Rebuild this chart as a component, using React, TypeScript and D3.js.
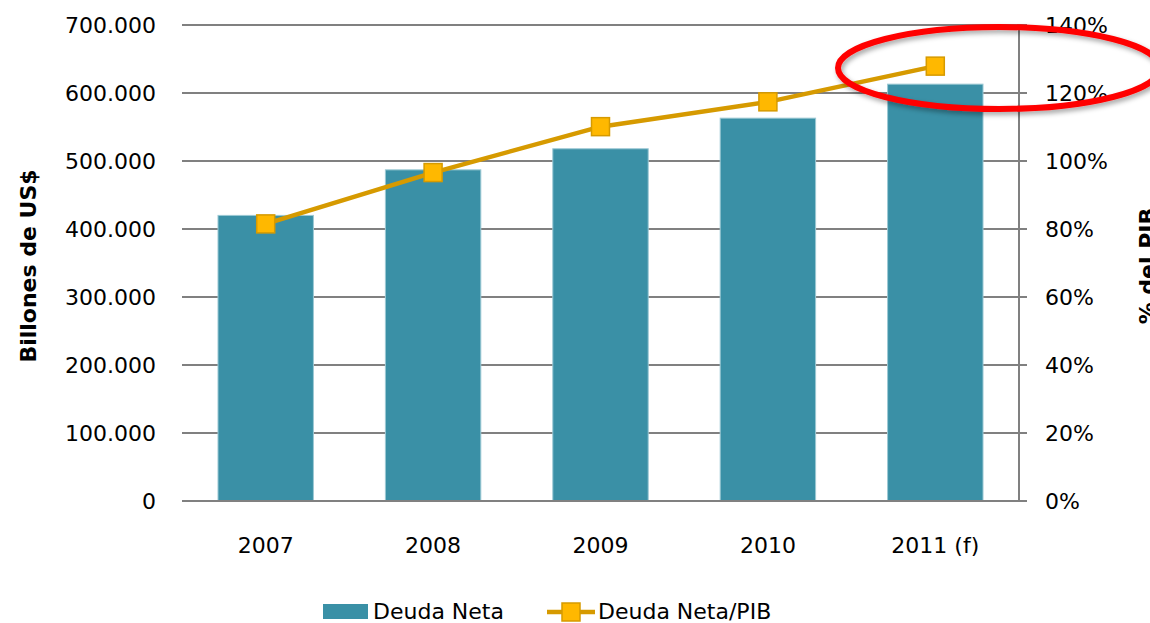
import React from "react";
import * as d3 from "d3";

const categories = ["2007", "2008", "2009", "2010", "2011 (f)"];
const deudaNeta = [420000, 487000, 518000, 563000, 613000];
const deudaPib = [81.5, 96.6, 110.1, 117.4, 127.9];
const leftTicks = [0, 100000, 200000, 300000, 400000, 500000, 600000, 700000];
const rightTicks = [0, 20, 40, 60, 80, 100, 120, 140];
const seriesNames = ["Deuda Neta", "Deuda Neta/PIB"];

const W = 1150;
const H = 623;
const FONT = "'DejaVu Sans', sans-serif";
const BAR = "#3a90a6";
const LINE = "#d69a00";
const MARK = "#ffb800";
const GRID = "#808080";

export default function App() {
  const x = d3.scaleBand<string>().domain(categories).range([182, 1019]).paddingInner(0.43).paddingOuter(0.215);
  const yL = d3.scaleLinear().domain([0, 700000]).range([501, 25]);
  const yR = d3.scaleLinear().domain([0, 140]).range([501, 25]);
  const fmt = (v: number) => (v === 0 ? "0" : d3.format(",.3f")(v / 1000).replace(/,/g, "."));
  const cx = (c: string) => (x(c) as number) + x.bandwidth() / 2;
  const line = d3
    .line<number>()
    .x((_, i) => cx(categories[i]))
    .y((d) => yR(d));

  return (
    <svg width={W} height={H} style={{ position: "absolute", left: 0, top: 0, background: "#fff" }} fontFamily={FONT}>
      <defs>
        <filter id="sh" x="-20%" y="-50%" width="140%" height="200%">
          <feDropShadow dx="2" dy="3" stdDeviation="2.5" floodColor="#000" floodOpacity="0.35" />
        </filter>
      </defs>
      {leftTicks.map((t) => (
        <g key={t}>
          <line x1={182} x2={1027} y1={yL(t)} y2={yL(t)} stroke={GRID} strokeWidth={2} />
          <text x={156} y={yL(t) + 8} textAnchor="end" fontSize={22} fill="#000">
            {fmt(t)}
          </text>
        </g>
      ))}
      {rightTicks.map((t) => (
        <text key={t} x={1045} y={yR(t) + 8} fontSize={22} fill="#000">
          {t}%
        </text>
      ))}
      {deudaNeta.map((v, i) => (
        <rect
          key={i}
          x={x(categories[i])}
          y={yL(v)}
          width={x.bandwidth()}
          height={yL(0) - yL(v)}
          fill={BAR}
          stroke="#9cc9d4"
          strokeWidth={1}
        />
      ))}
      <line x1={1019} x2={1019} y1={25} y2={501} stroke={GRID} strokeWidth={2} />
      <line x1={182} x2={1027} y1={501} y2={501} stroke={GRID} strokeWidth={2} />
      <path d={line(deudaPib) || ""} fill="none" stroke={LINE} strokeWidth={4.5} strokeLinejoin="round" />
      {deudaPib.map((v, i) => (
        <rect key={i} x={cx(categories[i]) - 9} y={yR(v) - 9} width={18} height={18} fill={MARK} stroke={LINE} strokeWidth={1.5} />
      ))}
      {categories.map((c) => (
        <text key={c} x={cx(c)} y={553} textAnchor="middle" fontSize={22} fill="#000">
          {c}
        </text>
      ))}
      <text transform="translate(36,266) rotate(-90)" textAnchor="middle" fontSize={22} fontWeight="bold" fill="#000">
        Billones de US$
      </text>
      <text transform="translate(1155,266) rotate(-90)" textAnchor="middle" fontSize={22} fontWeight="bold" fill="#000">
        % del PIB
      </text>
      <rect x={323} y={604} width={45} height={15} fill={BAR} />
      <text x={373} y={619} fontSize={22} fill="#000">
        {seriesNames[0]}
      </text>
      <line x1={547} x2={595} y1={612} y2={612} stroke={LINE} strokeWidth={4.5} />
      <rect x={562} y={603} width={18} height={18} fill={MARK} stroke={LINE} strokeWidth={1.5} />
      <text x={598} y={619} fontSize={22} fill="#000">
        {seriesNames[1]}
      </text>
      <ellipse cx={999} cy={68} rx={161} ry={41} fill="none" stroke="#ff0000" strokeWidth={6} filter="url(#sh)" />
    </svg>
  );
}
